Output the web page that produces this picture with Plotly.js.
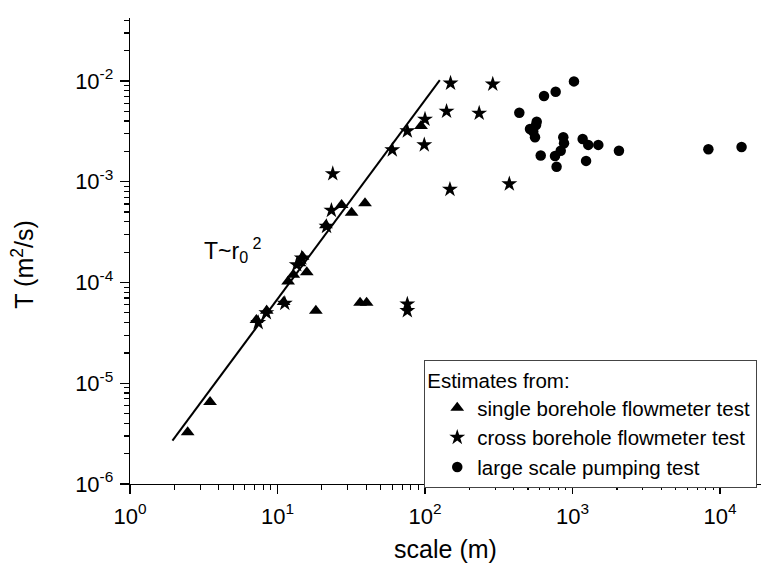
<!DOCTYPE html>
<html>
<head>
<meta charset="utf-8">
<script src="https://cdn.plot.ly/plotly-3.0.1.min.js"></script>
<style>html,body{margin:0;padding:0;background:#fff;}#chart{width:761px;height:573px;}</style>
</head>
<body>
<div id="chart"></div>
<script>
// single borehole flowmeter test
const triX = [2.46, 3.49, 7.2, 8.45, 11.0, 11.8, 12.8, 14.1, 14.8, 15.8, 18.2, 21.3, 27.2, 31.8, 36.3, 40.2, 39.2, 94];
const triY = [3.26e-6, 6.5e-6, 4.25e-5, 5.25e-5, 6.4e-5, 1.02e-4, 1.19e-4, 1.55e-4, 1.8e-4, 1.26e-4, 5.25e-5, 3.7e-4, 5.87e-4, 4.93e-4, 6.3e-5, 6.3e-5, 6.1e-4, 3.57e-3];
// cross borehole flowmeter test
const starX = [7.4, 8.4, 11.2, 13.5, 14.6, 21.5, 23.2, 23.7, 60, 75.9, 75.9, 75.9, 98.9, 100, 140, 147.6, 149, 233, 288, 373];
const starY = [4.0e-5, 5.0e-5, 6.2e-5, 1.5e-4, 1.75e-4, 3.6e-4, 5.2e-4, 1.2e-3, 2.07e-3, 3.19e-3, 6.1e-5, 5.25e-5, 2.32e-3, 4.17e-3, 5.0e-3, 8.4e-4, 9.5e-3, 4.78e-3, 9.3e-3, 9.5e-4];
// large scale pumping test
const circX = [1023, 769, 641, 436, 572, 566, 515, 542, 557, 866, 876, 1172, 1279, 1496, 2065, 832, 761, 609, 780, 1236, 8340, 14000];
const circY = [9.9e-3, 7.83e-3, 7.1e-3, 4.84e-3, 3.94e-3, 3.65e-3, 3.34e-3, 3.14e-3, 2.76e-3, 2.76e-3, 2.41e-3, 2.66e-3, 2.32e-3, 2.32e-3, 2.03e-3, 2.03e-3, 1.80e-3, 1.82e-3, 1.41e-3, 1.61e-3, 2.1e-3, 2.21e-3];
// T ~ r0^2 guide line end points
const lineX = [1.94, 126];
const lineY = [2.69e-6, 1.02e-2];

const xTickVals = [1, 10, 100, 1000, 10000];
const xTickText = ['10<sup>0</sup>', '10<sup>1</sup>', '10<sup>2</sup>', '10<sup>3</sup>', '10<sup>4</sup>'];
const yTickVals = [1e-6, 1e-5, 1e-4, 1e-3, 1e-2];
const yTickText = ['10<sup>-6</sup>', '10<sup>-5</sup>', '10<sup>-4</sup>', '10<sup>-3</sup>', '10<sup>-2</sup>'];

const FONT = '"Liberation Sans", Arial, sans-serif';

const traces = [
  {x: lineX, y: lineY, mode: 'lines', line: {color: '#000', width: 2}, showlegend: false, hoverinfo: 'skip'},
  {x: triX, y: triY, mode: 'markers', name: 'single borehole flowmeter test',
   marker: {symbol: 'triangle-up', size: 12, color: '#000'}, legendgroup: 'a'},
  {x: starX, y: starY, mode: 'markers', name: 'cross borehole flowmeter test',
   marker: {symbol: 'star', size: 12, color: '#000'}, legendgroup: 'b'},
  {x: circX, y: circY, mode: 'markers', name: 'large scale pumping test',
   marker: {symbol: 'circle', size: 10.5, color: '#000'}, legendgroup: 'c'}
];

const axisCommon = {
  type: 'log', showgrid: false, zeroline: false, showline: true, linecolor: '#000', linewidth: 1.3,
  ticks: 'outside', ticklen: 9, tickwidth: 1.3, tickcolor: '#000',
  tickfont: {family: FONT, size: 22, color: '#000'},
  minor: {ticks: 'outside', ticklen: 5, tickwidth: 1.2, tickcolor: '#000', dtick: 'D1', showgrid: false},
  mirror: false
};

const layout = {
  width: 761, height: 573,
  margin: {l: 130, r: 0, t: 18, b: 89},
  paper_bgcolor: '#fff', plot_bgcolor: '#fff',
  font: {family: FONT, color: '#000'},
  xaxis: Object.assign({}, axisCommon, {
    range: [0, 4.278], tickmode: 'array', tickvals: xTickVals, ticktext: xTickText,
    ticklabelstandoff: 3,
    title: {text: 'scale (m)', font: {family: FONT, size: 25, color: '#000'}, standoff: 12}
  }),
  yaxis: Object.assign({}, axisCommon, {
    range: [-6, -1.375], tickmode: 'array', tickvals: yTickVals, ticktext: yTickText,
    ticklabelstandoff: 2
  }),
  legend: {
    x: 0.466, y: 0.266, xanchor: 'left', yanchor: 'top',
    bgcolor: '#fff', bordercolor: '#444', borderwidth: 1.2,
    font: {family: FONT, size: 20.5, color: '#000'},
    title: {text: 'Estimates from:', font: {family: FONT, size: 20.5, color: '#000'}},
    traceorder: 'normal', tracegroupgap: 0, indentation: 12
  },
  annotations: [
    {
      xref: 'x', yref: 'y', x: 0.488, y: -3.68, xanchor: 'left', yanchor: 'middle',
      text: 'T~r<sub>0</sub><sup> 2</sup>', showarrow: false,
      font: {family: FONT, size: 23, color: '#000'}
    },
    {
      xref: 'paper', yref: 'paper', x: -0.17, y: 0.47, xanchor: 'center', yanchor: 'middle',
      text: 'T (m<sup>2</sup>/s)', textangle: -90, showarrow: false,
      font: {family: FONT, size: 25, color: '#000'}
    }
  ]
};

Plotly.newPlot('chart', traces, layout, {displayModeBar: false, staticPlot: true});
</script>
</body>
</html>
